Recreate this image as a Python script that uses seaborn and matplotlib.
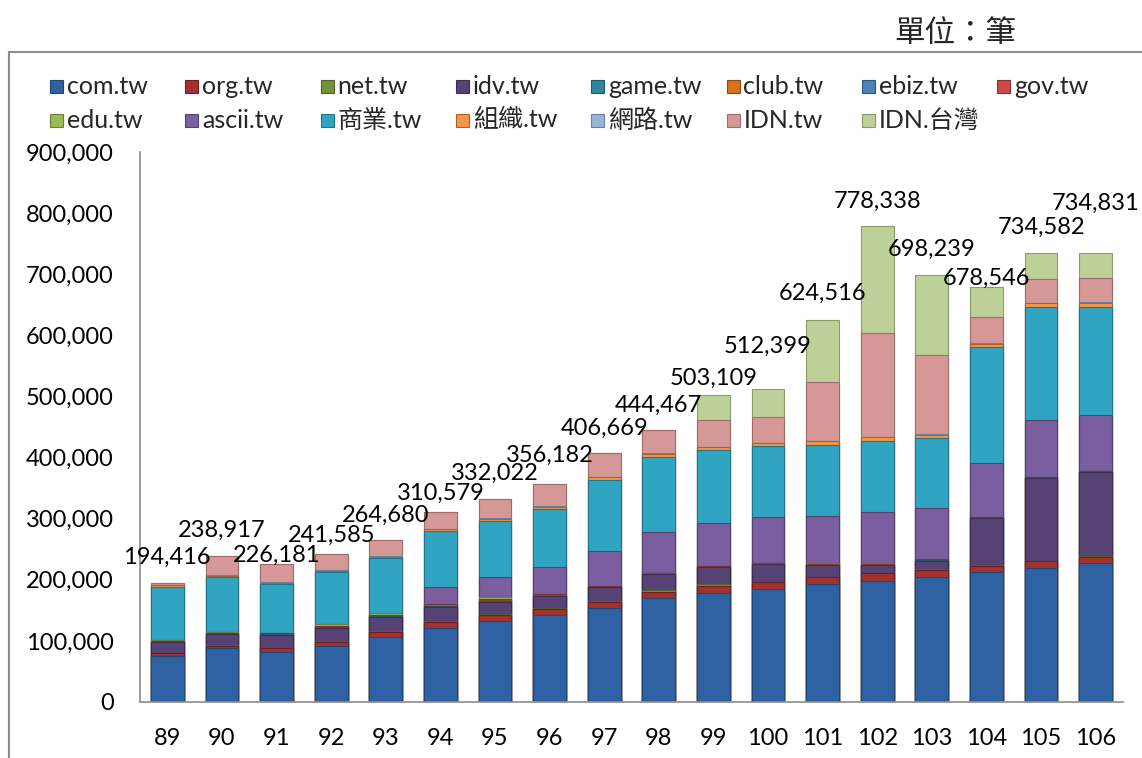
import numpy as np
import pandas as pd
import seaborn as sns
import matplotlib
matplotlib.use("Agg")
import matplotlib.pyplot as plt
from matplotlib.patches import Rectangle

# ---------------- data ----------------
years = ['89', '90', '91', '92', '93', '94', '95', '96', '97',
         '98', '99', '100', '101', '102', '103', '104', '105', '106']

com_tw   = [75300, 87900, 82300, 92100, 105800, 120600, 133000, 142400, 153300,
            169700, 177900, 184400, 192600, 198500, 205000, 212200, 219800, 227000]
org_tw   = [4400, 4200, 5600, 6600, 9200, 9800, 9400, 10300, 10800,
            10800, 12400, 11500, 11400, 12100, 11100, 11000, 10400, 10900]
net_tw   = [1000, 1200, 1200, 1300, 1400, 1500, 1600, 1600, 1400,
            2800, 2800, 1000, 1000, 1000, 1000, 1000, 1000, 1000]
idv_tw   = [17000, 17500, 20500, 21600, 23200, 24000, 20100, 19200, 22200,
            26200, 27300, 28900, 19200, 12600, 14100, 77400, 135800, 138000]
game_tw  = [300, 400, 400, 500, 600, 700, 1200, 600, 500,
            500, 500, 500, 500, 500, 500, 500, 500, 300]
club_tw  = [300, 400, 400, 500, 600, 700, 800, 600, 500,
            500, 500, 500, 500, 1000, 500, 300, 300, 200]
ebiz_tw  = [200, 200, 200, 300, 300, 300, 400, 300, 200,
            200, 200, 200, 200, 200, 200, 200, 200, 100]
gov_tw   = [1500, 1600, 1600, 1700, 1800, 2000, 2200, 1200, 1000,
            700, 600, 700, 700, 700, 900, 500, 500, 100]
edu_tw   = [1800, 1800, 1200, 2500, 2200, 1900, 3600, 500, 400,
            200, 800, 200, 800, 300, 200, 200, 200, 200]
ascii_tw = [0, 0, 0, 0, 0, 26200, 31700, 44700, 56800,
            67100, 70400, 74300, 78000, 84500, 84500, 87300, 92800, 91800]
shangye_tw = [86200, 88800, 79200, 85100, 90000, 92100, 92700, 94400, 116200,
              122700, 119000, 116700, 115600, 115700, 113500, 189800, 184400, 177300]
zuzhi_tw = [3000, 2700, 2800, 2800, 2800, 2800, 2900, 3900, 4400,
            4600, 4400, 4400, 6100, 6000, 6000, 5600, 6500, 6600]
wanglu_tw = [1200, 1200, 1000, 1000, 1000, 1000, 1000, 1000, 1000,
             1000, 1000, 1000, 1000, 1000, 1000, 1000, 1000, 1000]
idn_tw   = [2200, 31000, 29800, 25600, 25800, 27000, 31400, 35500, 38000,
            37500, 43700, 42600, 96500, 170200, 129300, 43500, 38300, 38800]
idn_taiwan = [0, 0, 0, 0, 0, 0, 0, 0, 0,
              0, 41600, 45500, 100400, 174000, 130400, 48000, 42900, 41500]

totals = [194416, 238917, 226181, 241585, 264680, 310579, 332022, 356182, 406669,
          444467, 503109, 512399, 624516, 778338, 698239, 678546, 734582, 734831]

series_names = ['com.tw', 'org.tw', 'net.tw', 'idv.tw', 'game.tw', 'club.tw',
                'ebiz.tw', 'gov.tw', 'edu.tw', 'ascii.tw', '商業.tw', '組織.tw',
                '網路.tw', 'IDN.tw', 'IDN.台灣']
series_values = [com_tw, org_tw, net_tw, idv_tw, game_tw, club_tw, ebiz_tw, gov_tw,
                 edu_tw, ascii_tw, shangye_tw, zuzhi_tw, wanglu_tw, idn_tw, idn_taiwan]

# ---------------- style / layout ----------------
colors = ['#2F62A3', '#A3322F', '#76923C', '#574276', '#31859C', '#D8701E',
          '#4F81BD', '#C84B47', '#9BBB59', '#7A5E9F', '#31A4C2', '#F79646',
          '#98B4D8', '#D69897', '#BCD097']
edge_colors = ['#1F4675', '#6E1F1D', '#4F6327', '#3C2D52', '#1F5A69', '#8F4A12',
               '#33567F', '#862F2C', '#67803A', '#54416E', '#22748A', '#A8632D',
               '#6A80A0', '#A06C6B', '#8A9B6C']
# vertical lift of the total labels above the bar tops (data units)
label_lift = [42900, 42600, 14400, 31700, 41300, 31400, 42700, 48000, 41700,
              41500, 27100, 70200, 44800, 41500, 43100, 15300, 42700, 81800]

W, H = 1142, 758
sns.set_style('white')
plt.rcParams['font.family'] = ['Lato', 'Noto Sans CJK TC', 'DejaVu Sans']
FS = 17
LFS = 18

fig = plt.figure(figsize=(W / 100, H / 100), dpi=100)
ax = fig.add_axes([140 / W, 1 - 702 / H, (1123 - 140) / W, (702 - 152) / H])

cum = np.cumsum(np.array(series_values, dtype=float), axis=0)
# draw from the top of the stack downward so lower layers cover upper ones
for i in range(len(series_names) - 1, -1, -1):
    df = pd.DataFrame({'year': years, 'value': cum[i]})
    sns.barplot(data=df, x='year', y='value', order=years, color=colors[i],
                saturation=1, width=0.6, edgecolor=edge_colors[i], linewidth=0.8,
                ax=ax, errorbar=None)

ax.set_ylim(0, 900000)
ax.set_xlim(-0.5, len(years) - 0.5)
ax.set_yticks(np.arange(0, 900001, 100000))
ax.yaxis.set_major_formatter(matplotlib.ticker.FuncFormatter(lambda v, p: f'{int(v):,}'))
ax.set_xlabel('')
ax.set_ylabel('')
ax.tick_params(axis='both', labelsize=FS, length=0, colors='black')
ax.tick_params(axis='y', pad=19)
ax.tick_params(axis='x', pad=19)
for s in ['top', 'right']:
    ax.spines[s].set_visible(False)
for s in ['left', 'bottom']:
    ax.spines[s].set_color('#8C8C8C')
    ax.spines[s].set_linewidth(1.2)

# total labels
for xi, (t, lift) in enumerate(zip(totals, label_lift)):
    ax.text(xi, t + lift, f'{t:,}', ha='center', va='center', fontsize=FS, color='black')

# legend drawn as equally spaced entries (Excel-like)
for i, name in enumerate(series_names):
    col, row = i % 8, i // 8
    x0 = 50 + col * 135.3
    yc = 86 + row * 34
    fig.patches.append(Rectangle((x0 / W, 1 - (yc + 6.5) / H), 13 / W, 13 / H,
                                 transform=fig.transFigure, facecolor=colors[i],
                                 edgecolor=edge_colors[i], linewidth=0.8))
    fig.text((x0 + 17) / W, 1 - yc / H, name, fontsize=LFS, va='center', ha='left')

# outer chart frame
fig.patches.append(Rectangle((9 / W, -0.05), 1.2, 1 - 52 / H + 0.05,
                             transform=fig.transFigure, fill=False,
                             edgecolor='#8C8C8C', linewidth=1.5))

fig.text(955 / W, 1 - 33 / H, '單位：筆', fontsize=22, ha='center', va='center',
         family=['Noto Sans CJK TC'])

fig.savefig('out.png', dpi=100)
